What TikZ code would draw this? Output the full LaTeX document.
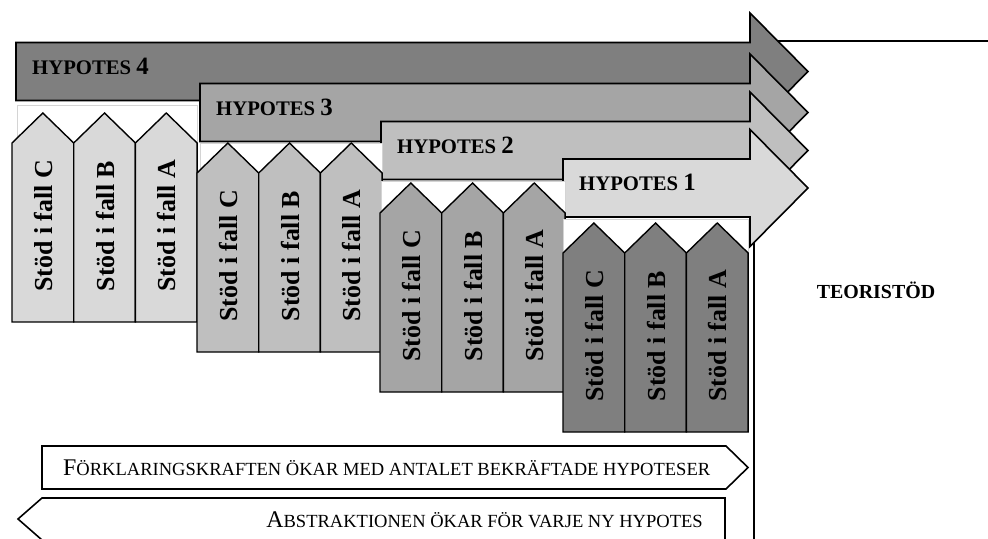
\documentclass[tikz,border=0pt]{standalone}
\usepackage{fontspec}
\setmainfont{Liberation Serif}
\usepackage{tikz}
\usetikzlibrary{calc}
\definecolor{ink}{HTML}{000000}
\definecolor{shadeA}{HTML}{7F7F7F}
\definecolor{shadeB}{HTML}{A5A5A5}
\definecolor{shadeC}{HTML}{BFBFBF}
\definecolor{shadeD}{HTML}{D9D9D9}
\definecolor{framegray}{HTML}{D4D4D4}
\newcommand\capsmall{\fontsize{18.6}{20}\selectfont}
\newcommand\capbig{\fontsize{24}{26}\selectfont}
\newcommand\hypsmall{\fontsize{20.8}{22}\selectfont}
\newcommand\hypbig{\fontsize{25}{27}\selectfont}
\tikzset{
  hyparrow/.style={draw=ink, line width=1.6pt, fill=#1, line join=miter},
  stodcol/.style={draw=ink, line width=1.4pt, fill=#1},
  groupframe/.style={draw=framegray, line width=0.8pt, fill=white},
  hyplab/.style={anchor=base west, inner sep=0pt, font=\bfseries\hypsmall},
  caselab/.style={rotate=90, inner sep=0pt, font=\bfseries\fontsize{26}{28}\selectfont},
  flowbox/.style={draw=ink, line width=1.6pt, fill=white},
  flowtext/.style={inner sep=0pt, font=\capsmall},
  edgeline/.style={draw=ink, line width=1.4pt},
}

\begin{document}
\begin{tikzpicture}[x=1bp,y=-1bp]
  \useasboundingbox[fill=white] (0,0) rectangle (988,539);

  % --- hypothesis arrows, widest first ---
  \foreach \n/\lx/\cy/\col in {4/16/71.5/shadeA, 3/200/112.5/shadeB,
                               2/381/150.5/shadeC, 1/563/188/shadeD} {
    \draw[hyparrow=\col] (\lx,\cy-29) -- (750,\cy-29) -- (750,\cy-58.5) -- (808,\cy)
      -- (750,\cy+58.5) -- (750,\cy+29) -- (\lx,\cy+29) -- cycle;
    \node[hyplab] (hyp\n) at (\lx+16,\cy+3) {HYPOTES {\hypbig\n}};
  }

  % --- theory border ---
  \coordinate (teoTop) at (777.5,41);
  \coordinate (teoRight) at (988,41);
  \coordinate (teoBot) at (754,242);
  \coordinate (teoEnd) at (754,541);
  \draw[edgeline] (teoTop) -- (teoRight);
  \draw[edgeline] (teoBot) -- (teoEnd);
  \node[font=\bfseries\fontsize{20}{22}\selectfont, inner sep=0pt, anchor=base]
    (teori) at (876,299) {TEORISTÖD};

  % --- support columns ---
  \foreach \g/\gx/\fx/\fy/\py/\col in {4/12/17/105/113/shadeD, 3/197/200/143.5/143/shadeC,
                                       2/380/381/181.5/183/shadeB, 1/563/563/219/223/shadeA} {
    \draw[groupframe] (\fx,\fy) rectangle (\gx+185,\py+40);
    \foreach \k/\lab in {0/C, 1/B, 2/A} {
      \draw[stodcol=\col] (\gx+\k*61.7,\py+209) -- (\gx+\k*61.7,\py+30)
        -- (\gx+\k*61.7+30.85,\py) -- (\gx+\k*61.7+61.7,\py+30)
        -- (\gx+\k*61.7+61.7,\py+209) -- cycle;
      \node[caselab] (case\g\lab) at (\gx+\k*61.7+31.5,\py+113) {Stöd i fall \lab};
    }
  }

  % --- bottom arrows ---
  \draw[flowbox] (42,446) -- (726,446) -- (748,467.5) -- (726,489) -- (42,489) -- cycle;
  \node[flowtext, anchor=base west] (gain) at (63,475)
    {{\capbig F}ÖRKLARINGSKRAFTEN ÖKAR MED ANTALET BEKRÄFTADE HYPOTESER};
  \draw[flowbox] (725,498) -- (42,498) -- (18,519) -- (42,540) -- (725,540) -- cycle;
  \node[flowtext, anchor=base east] (abst) at (703,527)
    {{\capbig A}BSTRAKTIONEN ÖKAR FÖR VARJE NY HYPOTES};
\end{tikzpicture}
\end{document}
